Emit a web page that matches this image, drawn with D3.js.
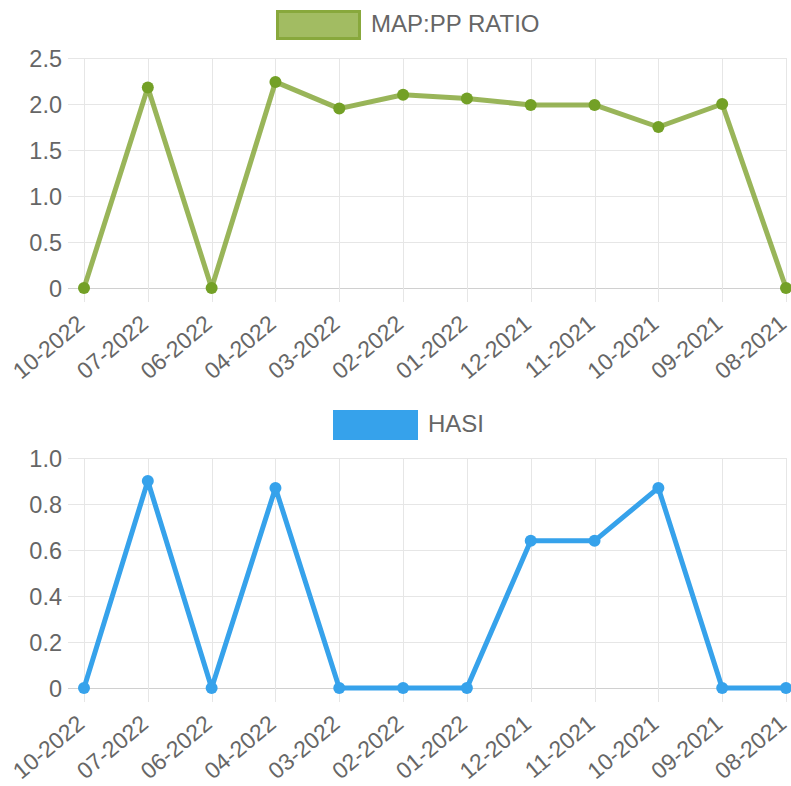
<!DOCTYPE html>
<html><head><meta charset="utf-8">
<script src="https://cdn.jsdelivr.net/npm/d3@7"></script>
<style>body{margin:0;background:#fff}svg{display:block}</style>
</head><body>
<svg id="c" width="791" height="786"></svg>
<script>
const categories = ["10-2022","07-2022","06-2022","04-2022","03-2022","02-2022","01-2022","12-2021","11-2021","10-2021","09-2021","08-2021"];
const mapPpRatio = [0, 2.18, 0, 2.24, 1.95, 2.10, 2.06, 1.99, 1.99, 1.75, 2.0, 0];
const hasi = [0, 0.90, 0, 0.87, 0, 0, 0, 0.64, 0.64, 0.87, 0, 0];
const ticksTop = [0, 0.5, 1.0, 1.5, 2.0, 2.5];
const ticksBottom = [0, 0.2, 0.4, 0.6, 0.8, 1.0];

const svg = d3.select("#c");
const font = "'Liberation Sans', Arial, Helvetica, sans-serif";

function drawChart(o) {
  const g = svg.append("g");
  const x = d3.scalePoint().domain(categories).range([84, 786]);
  const y = d3.scaleLinear().domain([0, o.max]).range([o.bottom, o.top]);
  g.selectAll(".hg").data(o.ticks).join("line")
    .attr("x1", 68).attr("x2", 786)
    .attr("y1", d => Math.round(y(d)) + 0.5).attr("y2", d => Math.round(y(d)) + 0.5)
    .attr("stroke", d => d === 0 ? "#d0d0d0" : "#e6e6e6").attr("stroke-width", 1);
  g.selectAll(".vg").data(categories).join("line")
    .attr("x1", d => Math.round(x(d)) + 0.5).attr("x2", d => Math.round(x(d)) + 0.5)
    .attr("y1", o.top).attr("y2", o.bottom + 14)
    .attr("stroke", "#e6e6e6").attr("stroke-width", 1);
  g.selectAll(".yl").data(o.ticks).join("text")
    .attr("x", 62).attr("y", d => y(d) + 8.5)
    .attr("text-anchor", "end").attr("font-family", font).attr("font-size", 23.5)
    .attr("fill", "#666").text(d => d === 0 ? "0" : d3.format(".1f")(d));
  g.selectAll(".xl").data(categories).join("text")
    .attr("transform", d => `translate(${x(d) + 2},${o.bottom + 38}) rotate(-40)`)
    .attr("text-anchor", "end").attr("font-family", font).attr("font-size", 23)
    .attr("fill", "#666").text(d => d);
  const line = d3.line().x((d, i) => x(categories[i])).y(d => y(d));
  g.append("path").datum(o.values).attr("d", line)
    .attr("fill", "none").attr("stroke", o.lineColor).attr("stroke-width", 5)
    .attr("stroke-linejoin", "round");
  g.selectAll(".pt").data(o.values).join("circle")
    .attr("cx", (d, i) => x(categories[i])).attr("cy", d => y(d)).attr("r", 6)
    .attr("fill", o.pointColor);
  g.append("rect").attr("x", o.legX + 1.5).attr("y", o.legY + 1.5).attr("width", 82).attr("height", 27)
    .attr("fill", o.legFill).attr("stroke", o.legStroke).attr("stroke-width", 3);
  g.append("text").attr("x", o.legX + 95).attr("y", o.legY + 22)
    .attr("font-family", font).attr("font-size", 24).attr("fill", "#666").text(o.label);
}

drawChart({values: mapPpRatio, ticks: ticksTop, max: 2.5, top: 58, bottom: 288,
  lineColor: "rgba(128,163,48,0.8)", pointColor: "#73a026",
  legFill: "#a2bc62", legStroke: "#88a83c", legX: 276, legY: 10, label: "MAP:PP RATIO"});
drawChart({values: hasi, ticks: ticksBottom, max: 1.0, top: 458, bottom: 688,
  lineColor: "#36a2eb", pointColor: "#36a2eb",
  legFill: "#36a2eb", legStroke: "#36a2eb", legX: 333, legY: 410, label: "HASI"});
</script>
</body></html>
